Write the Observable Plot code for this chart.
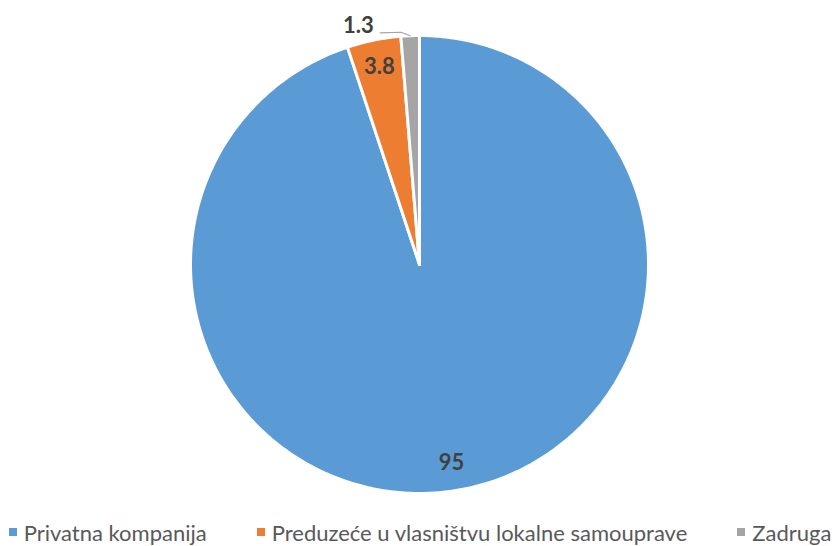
<!DOCTYPE html>
<html><head><meta charset="utf-8">
<script src="https://cdn.jsdelivr.net/npm/d3@7"></script>
<script src="https://cdn.jsdelivr.net/npm/@observablehq/plot@0.6"></script>
<style>
body{margin:0;background:#fff;font-family:Lato,"Open Sans",sans-serif;}
#legend{display:flex;justify-content:center;gap:50px;height:44px;align-items:center;font-size:22px;color:#595959;white-space:nowrap;}
#legend .it{display:flex;align-items:center;}
#legend .sw{width:8px;height:8px;margin-right:7px;}
</style></head>
<body><div id="chart"></div><div id="legend"></div>
<script>
const categories = ["Privatna kompanija", "Preduzeće u vlasništvu lokalne samouprave", "Zadruga"];
const values = [95, 3.8, 1.3];
const labels = ["95", "3.8", "1.3"];
const colors = ["#5B9BD5", "#ED7D31", "#A5A5A5"];

const W = 840, H = 510, CX = 419, CY = 264, R = 229;
const pie = d3.pie().sort(null).value(d => d.value)(categories.map((c, i) => ({cat: c, value: values[i], label: labels[i], color: colors[i]})));

const pts = [];
for (const a of pie) {
  const n = Math.max(4, Math.ceil((a.endAngle - a.startAngle) * 80));
  pts.push({cat: a.data.cat, x: 0, y: 0});
  for (let k = 0; k <= n; k++) {
    const t = a.startAngle + (a.endAngle - a.startAngle) * k / n;
    pts.push({cat: a.data.cat, x: Math.sin(t), y: -Math.cos(t)});
  }
}
const lab = pie.map((a, i) => {
  const m = (a.startAngle + a.endAngle) / 2;
  const outside = i === 2;
  const ang = outside ? m - 0.21 : m;
  const r = outside ? 1.075 : 0.88;
  return {text: a.data.label, x: Math.sin(ang) * r, y: -Math.cos(ang) * r, m};
});
const g = pie[2]; const gm = (g.startAngle + g.endAngle) / 2;
const leader = [
  {x: Math.sin(gm) * 1.0, y: -Math.cos(gm) * 1.0},
  {x: Math.sin(gm) * 1.0 - 0.04, y: -Math.cos(gm) * 1.0 - 0.015},
  {x: lab[2].x + 0.095, y: lab[2].y + 0.03}
];

const chart = Plot.plot({
  width: W, height: H, margin: 0,
  x: {domain: [-CX / R, (W - CX) / R], range: [0, W], axis: null},
  y: {domain: [-CY / R, (H - CY) / R], range: [0, H], axis: null},
  color: {domain: categories, range: colors},
  marks: [
    Plot.line(pts, {x: "x", y: "y", z: "cat", fill: "cat", stroke: "white", strokeWidth: 3, curve: "linear-closed"}),
    Plot.line(leader, {x: "x", y: "y", stroke: "#A5A5A5", strokeWidth: 1.2}),
    Plot.text(lab, {x: "x", y: "y", text: "text", fill: "#404040", fontSize: 22, fontWeight: "bold", fontFamily: "Lato, sans-serif"})
  ]
});
document.getElementById("chart").append(chart);

const leg = d3.select("#legend");
categories.forEach((c, i) => {
  const it = leg.append("div").attr("class", "it");
  it.append("div").attr("class", "sw").style("background", colors[i]);
  it.append("span").text(c);
});
</script></body></html>
